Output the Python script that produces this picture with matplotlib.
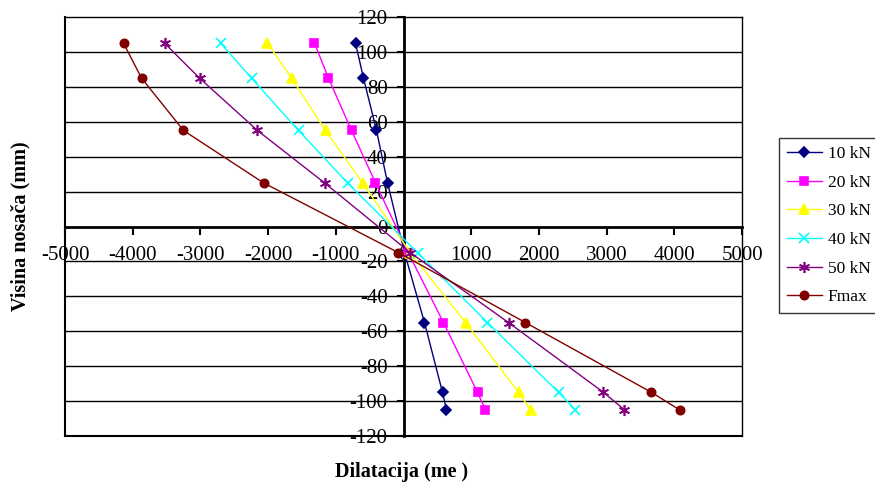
import numpy as np
import matplotlib
matplotlib.use("Agg")
import matplotlib.pyplot as plt

# visine mjernih tocaka (mm)
visina = [105, 85, 55, 25, -15, -55, -95, -105]

# dilatacije po stupnju opterecenja
d10 = [-709, -591, -399, -236, 15, 310, 576, 635]
d20 = [-1315, -1108, -768, -414, 70, 590, 1093, 1211]
d30 = [-2009, -1654, -1152, -605, 100, 916, 1700, 1876]
d40 = [-2703, -2245, -1551, -827, 207, 1240, 2290, 2540]
d50 = [-3530, -3013, -2157, -1167, 100, 1551, 2954, 3264]
dmax = [-4136, -3870, -3250, -2068, -74, 1800, 3663, 4077]

labels = ["10 kN", "20 kN", "30 kN", "40 kN", "50 kN", "Fmax"]
series = [d10, d20, d30, d40, d50, dmax]
colors = ["#000080", "#FF00FF", "#FFFF00", "#00FFFF", "#800080", "#800000"]
markers = ["D", "s", "^", "x", (6, 2, 0), "o"]
msizes = [5, 6, 7, 7, 8, 6]

plt.rcParams["font.family"] = ["Liberation Serif", "DejaVu Serif"]
plt.rcParams["axes.unicode_minus"] = False

fig = plt.figure(figsize=(8.75, 4.83), dpi=100)
ax = fig.add_axes([0.0743, 0.0973, 0.7737, 0.8675])

for i in range(len(series)):
    ax.plot(series[i], visina, color=colors[i], marker=markers[i],
            markersize=msizes[i], linewidth=1, label=labels[i],
            markeredgewidth=1.2, zorder=3)

ax.set_xlim(-5000, 5000)
ax.set_ylim(-120, 120)
ax.set_xticks(np.arange(-5000, 5001, 1000))
ax.set_yticks(np.arange(-120, 121, 20))

# horizontalne linije mreze
for yy in np.arange(-100, 101, 20):
    if yy != 0:
        ax.axhline(yy, color="black", linewidth=1, zorder=1)

# osi kroz nulu
ax.spines["left"].set_position(("data", 0))
ax.spines["bottom"].set_position(("data", 0))
ax.spines["left"].set_linewidth(2)
ax.spines["bottom"].set_linewidth(2)
ax.spines["top"].set_linewidth(1)
ax.spines["right"].set_linewidth(1)
ax.axhline(-120, color="black", linewidth=1.5, zorder=2, clip_on=False)
ax.axvline(-5000, color="black", linewidth=1.5, zorder=2, clip_on=False)

ax.tick_params(axis="x", direction="out", length=6, width=1.5,
               labelsize=15, pad=8)
ax.tick_params(axis="y", direction="out", length=5, width=1.5,
               labelsize=15, pad=6.5)

ax.set_xlabel("Dilatacija (me )", fontsize=14.5, fontweight="bold")
ax.xaxis.set_label_coords(0.497, -0.062)
ax.set_ylabel("Visina nosača (mm)", fontsize=14.5, fontweight="bold")
ax.yaxis.set_label_coords(-0.051, 0.5)

leg = ax.legend(loc="upper left", bbox_to_anchor=(1.055, 0.711),
                borderaxespad=0, fontsize=12.5, frameon=True, fancybox=False,
                edgecolor="black", handlelength=2.0, handletextpad=0.35,
                labelspacing=0.72, borderpad=0.45)
leg.get_frame().set_linewidth(1)

fig.savefig("out.png", dpi=100)
